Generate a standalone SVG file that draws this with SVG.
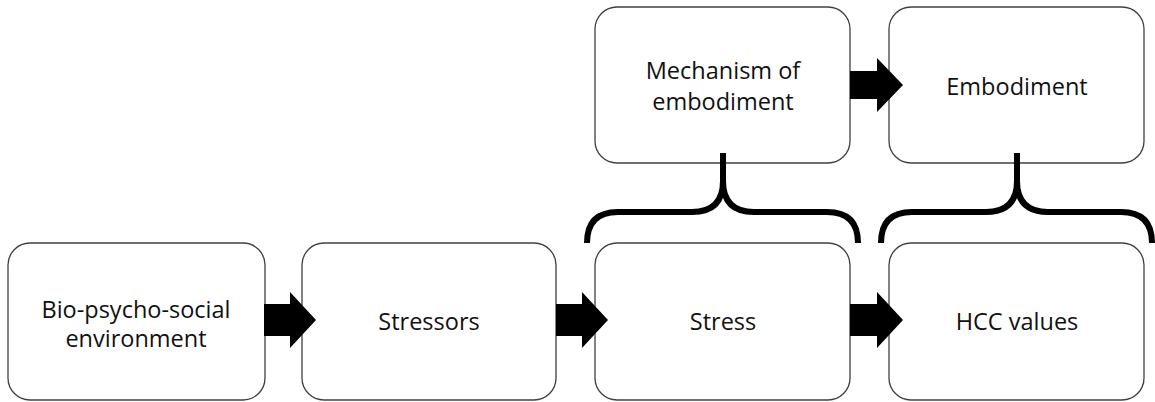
<svg xmlns="http://www.w3.org/2000/svg" width="1155" height="402" viewBox="0 0 1155 402">
<style>
.box{fill:#fff;stroke:#404040;stroke-width:1.3}
.t{font-family:"Open Sans","Noto Sans",sans-serif;font-size:23.5px;fill:#111;text-anchor:middle}
.arr{fill:#000}
.brace{fill:none;stroke:#000;stroke-width:6}
</style>
<g id="n1"><rect class="box" x="8" y="243" width="257" height="157" rx="22"/><text class="t" x="136" y="318">Bio-psycho-social</text><text class="t" x="136" y="347">environment</text></g>
<g id="n2"><rect class="box" x="302" y="243" width="254" height="157" rx="22"/><text class="t" x="429" y="330">Stressors</text></g>
<g id="n3"><rect class="box" x="595" y="243" width="255" height="157" rx="22"/><text class="t" x="723" y="330">Stress</text></g>
<g id="n4"><rect class="box" x="889" y="243" width="255" height="157" rx="22"/><text class="t" x="1017" y="330">HCC values</text></g>
<g id="n5"><rect class="box" x="595" y="7" width="255" height="156" rx="22"/><text class="t" x="723" y="79">Mechanism of</text><text class="t" x="723" y="110">embodiment</text></g>
<g id="n6"><rect class="box" x="889" y="7" width="255" height="156" rx="22"/><text class="t" x="1017" y="95">Embodiment</text></g>
<g id="connectors">
<polygon class="arr" points="264,304 290,304 290,292 316,320 290,348 290,336 264,336"/>
<polygon class="arr" points="556,304 582,304 582,292 608,320 582,348 582,336 556,336"/>
<polygon class="arr" points="850,304 877,304 877,292 903,320 877,348 877,336 850,336"/>
<polygon class="arr" points="850,71 877,71 877,58 903,85 877,112 877,99 850,99"/>
<path class="brace" d="M587,243 Q587,212 618,212 L692,212 Q723,212 723,181 L723,153 M723,181 Q723,212 754,212 L827,212 Q858,212 858,243"/>
<path class="brace" d="M881,243 Q881,212 912,212 L986,212 Q1017,212 1017,181 L1017,153 M1017,181 Q1017,212 1048,212 L1121,212 Q1152,212 1152,243"/>
</g>
</svg>
